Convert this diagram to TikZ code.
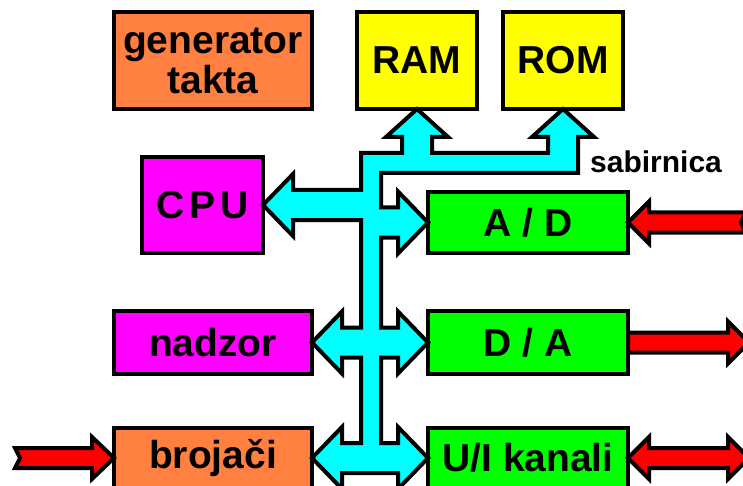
\documentclass[tikz,border=0pt]{standalone}
\usepackage{fontspec}
\setmainfont{Liberation Sans}
\definecolor{orng}{RGB}{255,128,64}
\definecolor{ylw}{RGB}{255,255,0}
\definecolor{mag}{RGB}{255,0,255}
\definecolor{grn}{RGB}{0,255,0}
\definecolor{cyn}{RGB}{0,255,255}
\definecolor{rd}{RGB}{255,0,0}

\begin{document}
\begin{tikzpicture}[x=0.5pt, y=-0.5pt, line width=2pt, align=center,
    box/.style={draw, inner sep=0, outer sep=0, font=\bfseries\fontsize{19.5}{20}\selectfont},
    bus/.style={draw, fill=cyn, line join=miter},
    sig/.style={draw, fill=rd, line join=miter}]
      \useasboundingbox (0,0) rectangle (743,486);

      \node[box, fill=orng, minimum width=99pt, minimum height=48.5pt] (gen) at (213,60.5) {generator\\ takta};
      \node[box, fill=ylw, minimum width=60pt, minimum height=48.5pt] (ram) at (417,60.5) {RAM};
      \node[box, fill=ylw, minimum width=60pt, minimum height=48.5pt] (rom) at (563,60.5) {ROM};
      \node[box, fill=mag, minimum width=60.5pt, minimum height=48pt] (cpu) at (202.5,205) {C\kern2.5pt P\kern2.5pt U};
      \node[box, fill=mag, minimum width=99pt, minimum height=31.5pt] (nadzor) at (213,342.5) {nadzor};
      \node[box, fill=orng, minimum width=99pt, minimum height=30pt] (broj) at (213,458) {brojači};
      \node[box, fill=grn, minimum width=100pt, minimum height=30.5pt] (ad) at (528,222.5) {A / D};
      \node[box, fill=grn, minimum width=100pt, minimum height=31.5pt] (da) at (528,342.5) {D / A};
      \node[box, fill=grn, minimum width=100pt, minimum height=30pt] (ui) at (528,458) {U/I kanali};
      \node[font=\bfseries\fontsize{15}{17}\selectfont] (sab) at (656,162) {sabirnica};

      % sabirnica
      \draw[bus] (361,153) -| (402,137) -- (386,137) -- (ram.south) -- (448,137) -- (432,137)
        |- (548,153) -- (548,137) -- (532,137) -- (rom.south) -- (594,137) -- (578,137)
        -- (578,173) -- (381,173)
        -- (381,207.5) -- (398,207.5) -- (398,191.5) -- (ad.west) -- (398,253.5) -- (398,237.5) -- (381,237.5)
        -- (381,327.5) -- (398,327.5) -- (398,311.5) -- (da.west) -- (398,373.5) -- (398,357.5) -- (381,357.5)
        -- (381,443) -- (398,443) -- (398,427) -- (ui.west) -- (398,489) -- (398,473)
        -- (342,473) -- (342,489) -- (broj.east) -- (342,427) -- (342,443) -- (361,443)
        -- (361,357.5) -- (342,357.5) -- (342,373.5) -- (nadzor.east) -- (342,311.5) -- (342,327.5) -- (361,327.5)
        -- (361,220) -- (293,220) -- (293,236) -- (cpu.east) -- (293,174) -- (293,190) -- (361,190) -- cycle;

      % ulazi i izlazi
      \draw[sig] (ad.east) -- (649,201.5) -- (649,212.5) -- (746,212.5) -- (741,222.5) -- (746,232.5)
        -- (649,232.5) -- (649,243.5) -- cycle;
      \draw[sig] (628,332.5) -- (728,332.5) -- (728,321.5) -- (749,342.5) -- (728,363.5) -- (728,352.5)
        -- (628,352.5) -- cycle;
      \draw[sig] (ui.east) -- (649,437) -- (649,448) -- (728,448) -- (728,437) -- (749,458) -- (728,479)
        -- (728,468) -- (649,468) -- (649,479) -- cycle;
      \draw[sig] (broj.west) -- (92,479) -- (92,468) -- (15,468) -- (20,458) -- (15,448) -- (92,448)
        -- (92,437) -- cycle;
    \end{tikzpicture}
\end{document}
